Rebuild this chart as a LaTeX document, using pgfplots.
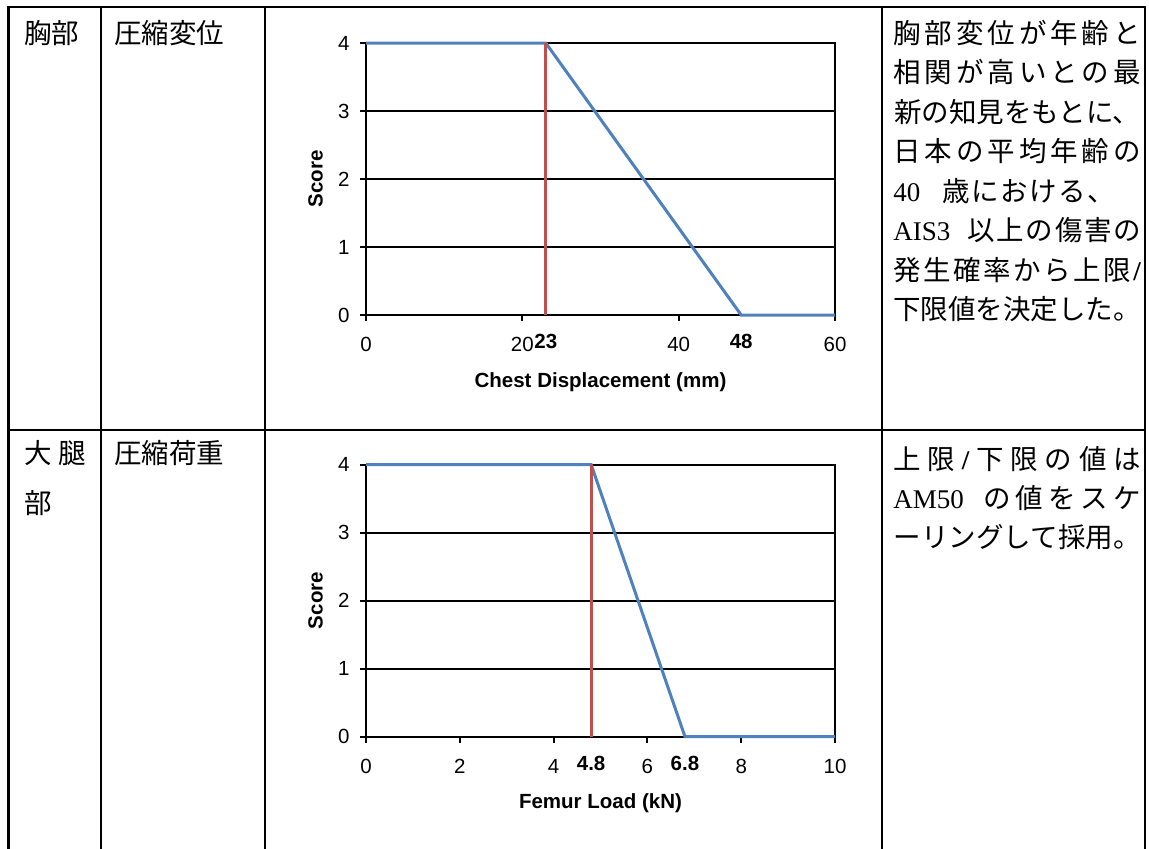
\documentclass[border=0pt]{standalone}
\usepackage{fontspec}
\usepackage{pgfplots}
\pgfplotsset{compat=1.18}
\newfontfamily\ja{Noto Sans CJK JP}
\newfontfamily\arial{Liberation Sans}
\newfontfamily\serif{Liberation Serif}
\definecolor{xblue}{RGB}{79,129,189}
\definecolor{xred}{RGB}{192,80,77}
\newcommand\jf{\ja\fontsize{13.75}{16}\selectfont}
\newcommand\lf{\serif\fontsize{13.5}{16}\selectfont}
\newcommand\chartfont{\arial\fontsize{10.25}{12}\selectfont}
\pgfplotsset{
  excel/.style={
    width=234.5pt, height=136pt, scale only axis,
    ymin=0, ymax=4, ytick={0,1,2,3,4},
    tick pos=left, tick align=outside, major tick length=3pt,
    ymajorgrids, grid style={black, line width=1pt},
    axis line style={black, line width=1pt},
    every tick/.style={black, line width=1pt},
    /pgf/number format/assume math mode=true,
    tick label style={font=\chartfont},
    xticklabel style={anchor=base, yshift=-15.25pt},
    yticklabel style={anchor=east, inner sep=0pt, xshift=-5pt},
    extra x tick style={grid=none, major tick length=0pt, xticklabel style={yshift=-1.5pt}},
    label style={font=\chartfont\bfseries},
    xlabel style={at={([yshift=-36pt]axis description cs:0.5,0)}, anchor=base},
    ylabel style={at={([xshift=-21.75pt]axis description cs:0,0.5)}, anchor=base},
    ylabel={Score},
    clip=false,
  }
}
\begin{document}
\begin{tikzpicture}[x=0.5pt,y=-0.5pt]
\useasboundingbox (0,0) rectangle (1149,848);
% table rules
\begin{scope}[line width=1.25pt, line cap=rect]
\draw (8.3,7) -- (1145,7);
\draw (8.3,430) -- (1145,430);
\foreach \xx in {8.3,101,265,882,1145} \draw (\xx,7) -- (\xx,850);
\end{scope}
% left columns
\begin{scope}[every node/.style={anchor=base west, inner sep=0pt}]
\node at (24,43) {\jf 胸部};
\node at (114,43) {\jf 圧縮変位};
\node at (24,463.5) {\jf\makebox[31pt]{大\hfill 腿}};
\node at (24,513.5) {\jf 部};
\node at (114,463.5) {\jf 圧縮荷重};
% right column row 1
\node at (893,43) {\jf\makebox[9em]{胸\hfill 部\hfill 変\hfill 位\hfill が\hfill 年\hfill 齢\hfill と}};
\node at (893,82.5) {\jf\makebox[9em]{相\hfill 関\hfill が\hfill 高\hfill い\hfill と\hfill の\hfill 最}};
\node at (893,122) {\jf\makebox[9em]{新の知見をもとに、}};
\node at (893,161.5) {\jf\makebox[9em]{日\hfill 本\hfill の\hfill 平\hfill 均\hfill 年\hfill 齢\hfill の}};
\node at (893,201) {\jf\makebox[24.5pt][l]{\lf 40}歳\kern.75pt に\kern.75pt お\kern.75pt け\kern.75pt る\kern.75pt 、};
\node at (893,240.5) {\jf\makebox[9em]{\makebox[37pt][l]{\lf AIS3}以\hfill 上\hfill の\hfill 傷\hfill 害\hfill の}};
\node at (893,280) {\jf\makebox[9em]{発\hfill 生\hfill 確\hfill 率\hfill か\hfill ら\hfill 上\hfill 限\hfill{\lf\bfseries /}}};
\node at (893,319.5) {\jf\makebox[9em]{下限値を決定した。}};
% right column row 2
\node at (893,469.5) {\jf\makebox[9em]{上\hfill 限\hfill{\lf\bfseries /}\hfill 下\hfill 限\hfill の\hfill 値\hfill は}};
\node at (893,508.5) {\jf\makebox[9em]{\makebox[45pt][l]{\lf AM50}の\hfill 値\hfill を\hfill ス\hfill ケ}};
\node at (893,547.5) {\jf\makebox[9em]{ーリングして採用。}};
\end{scope}
% chart 1
\begin{axis}[excel,
  at={(183pt,-157.5pt)}, anchor=south west,
  xmin=0, xmax=60, xtick={0,20,40,60},
  extra x ticks={23,48}, extra x tick labels={\textbf{23},\textbf{48}},
  xlabel={Chest Displacement (mm)}]
\addplot[xblue, line width=1.5pt, mark=none] coordinates {(0,4) (23,4) (48,0) (60,0)};
\addplot[xred, line width=1.5pt, mark=none] coordinates {(23,0) (23,4)};
\end{axis}
% chart 2
\begin{axis}[excel,
  at={(183pt,-368.25pt)}, anchor=south west,
  xmin=0, xmax=10, xtick={0,2,4,6,8,10},
  extra x ticks={4.8,6.8}, extra x tick labels={\textbf{4.8},\textbf{6.8}},
  xlabel={Femur Load (kN)}]
\addplot[xblue, line width=1.5pt, mark=none] coordinates {(0,4) (4.8,4) (6.8,0) (10,0)};
\addplot[xred, line width=1.5pt, mark=none] coordinates {(4.8,0) (4.8,4)};
\end{axis}
\end{tikzpicture}
\end{document}
